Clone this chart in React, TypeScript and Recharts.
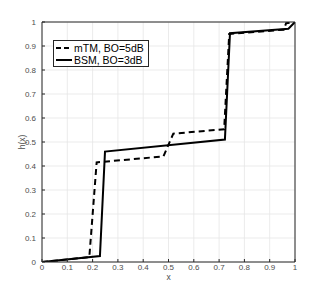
import React from 'react';
import { LineChart, Line, XAxis, YAxis, CartesianGrid } from 'recharts';

const ticks = [0, 0.1, 0.2, 0.3, 0.4, 0.5, 0.6, 0.7, 0.8, 0.9, 1];

const mtmX = [0, 0.187, 0.216, 0.48, 0.519, 0.72, 0.74, 0.955, 0.965, 1];
const mtmY = [0, 0.02, 0.415, 0.44, 0.535, 0.553, 0.95, 0.968, 0.995, 1];

const bsmX = [0, 0.229, 0.249, 0.723, 0.743, 0.974, 1];
const bsmY = [0, 0.025, 0.46, 0.51, 0.953, 0.972, 1];

const seriesNames = ['mTM, BO=5dB', 'BSM, BO=3dB'];
const seriesDash = ['6 4', undefined];

const toPoints = (xs: number[], ys: number[]) => xs.map((x, i) => ({ x, y: ys[i] }));
const mtmData = toPoints(mtmX, mtmY);
const bsmData = toPoints(bsmX, bsmY);

const AXIS = '#262626';
const FONT = '"Liberation Sans", Arial, sans-serif';

const LegendBox = () => (
  <div
    style={{
      position: 'absolute',
      left: 53,
      top: 40,
      width: 96,
      height: 27,
      border: `1px solid ${AXIS}`,
      background: '#fff',
      boxSizing: 'border-box',
      padding: '1px 0 0 2px',
      fontFamily: FONT,
      fontSize: 10.5,
      color: '#000',
    }}
  >
    {seriesNames.map((name, i) => (
      <div key={name} style={{ display: 'flex', alignItems: 'center', height: 12 }}>
        <svg width={16} height={4} style={{ marginRight: 2 }}>
          <line x1={0} y1={2} x2={16} y2={2} stroke="#000" strokeWidth={2} strokeDasharray={seriesDash[i] ? '5 3' : undefined} />
        </svg>
        <span style={{ lineHeight: '12px', whiteSpace: 'nowrap' }}>{name}</span>
      </div>
    ))}
  </div>
);

export default function App() {
  const tickStyle = { fontSize: 8, fill: '#4d4d4d', fontFamily: FONT };
  return (
    <div style={{ position: 'absolute', left: 0, top: 0, width: 327, height: 294, background: '#fff' }}>
      <LineChart width={327} height={294} margin={{ top: 21, right: 31, bottom: 31, left: 41 }}>
        <CartesianGrid stroke="#e6e6e6" strokeWidth={0.8} />
        <XAxis
          type="number"
          dataKey="x"
          domain={[0, 1]}
          ticks={ticks}
          height={1}
          tickSize={-3}
          tickMargin={5}
          stroke={AXIS}
          tick={tickStyle}
          allowDataOverflow
          label={{ value: 'x', position: 'bottom', offset: 11, style: { fontSize: 8.5, fill: '#4d4d4d', fontFamily: FONT } }}
        />
        <XAxis
          xAxisId="top"
          orientation="top"
          type="number"
          dataKey="x"
          domain={[0, 1]}
          ticks={ticks}
          height={1}
          tickSize={-3}
          tick={false}
          stroke={AXIS}
        />
        <YAxis
          type="number"
          domain={[0, 1]}
          ticks={ticks}
          width={1}
          tickSize={-3}
          tickMargin={9}
          stroke={AXIS}
          tick={tickStyle}
          allowDataOverflow
          label={{ value: 'h(x)', angle: -90, position: 'left', offset: 19, style: { textAnchor: 'middle', fontSize: 8.5, fill: '#4d4d4d', fontFamily: FONT } }}
        />
        <YAxis
          yAxisId="right"
          orientation="right"
          type="number"
          domain={[0, 1]}
          ticks={ticks}
          width={1}
          tickSize={-3}
          tick={false}
          stroke={AXIS}
        />
        <Line
          data={mtmData}
          dataKey="y"
          type="linear"
          stroke="#000"
          strokeWidth={2}
          strokeDasharray={seriesDash[0]}
          dot={false}
          isAnimationActive={false}
          name={seriesNames[0]}
        />
        <Line
          data={bsmData}
          dataKey="y"
          type="linear"
          stroke="#000"
          strokeWidth={2}
          dot={false}
          isAnimationActive={false}
          name={seriesNames[1]}
        />
      </LineChart>
      <LegendBox />
    </div>
  );
}
